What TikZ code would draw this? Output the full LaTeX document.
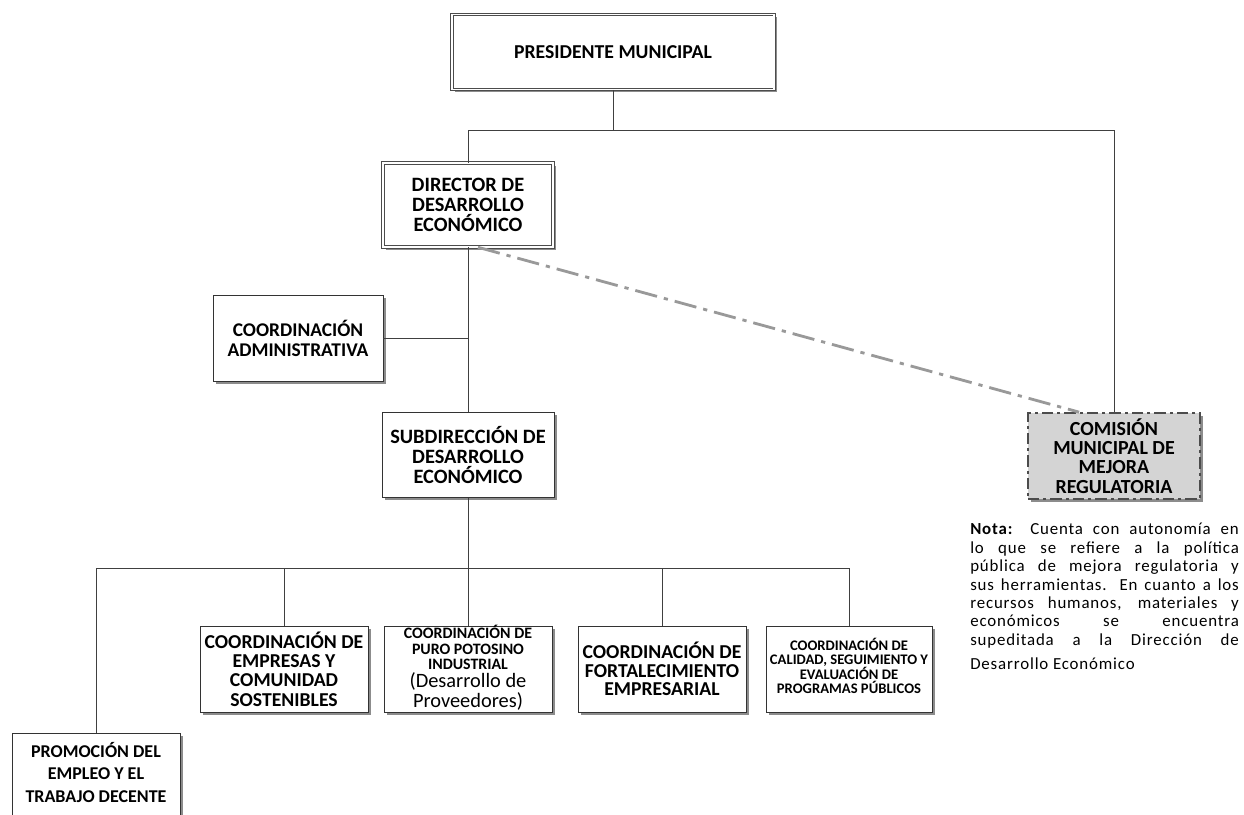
\documentclass[tikz,border=0pt]{standalone}
\usepackage{fontspec}
\setmainfont{Carlito}
\usetikzlibrary{shadows}

\tikzstyle{box} = [rectangle, draw=black!80, fill=white, thin, align=center, inner sep=2pt, font=\fontsize{14}{13.8}\selectfont\bfseries, drop shadow={shadow xshift=2pt, shadow yshift=-2pt, fill=black!45, opacity=1}]
\tikzstyle{dbox} = [box, draw=black!70, double=white, double distance=1.4pt]
\tikzstyle{gbox} = [box, fill=black!17, draw=black!70, line width=1.2pt, dash pattern=on 8pt off 3pt on 2pt off 3pt]
\tikzstyle{line} = [thin, draw=black!75]
\tikzstyle{dashln} = [line width=2pt, draw=black!40, dash pattern=on 16pt off 5pt on 3pt off 5pt]

\begin{document}
\begin{tikzpicture}[x=0.025cm, y=-0.025cm]
\useasboundingbox (0,0) rectangle (1244,815);

%% Top levels
\node (pres) [dbox, minimum width=8.05cm, minimum height=1.875cm, font=\fontsize{14}{15}\selectfont\bfseries] at (613,52) {PRESIDENTE MUNICIPAL};
\node (dir) [dbox, minimum width=4.25cm, minimum height=2.1cm, font=\fontsize{14.5}{14.2}\selectfont\bfseries] at (468,205) {DIRECTOR DE\\ DESARROLLO\\ ECONÓMICO};
\node (adm) [box, minimum width=4.25cm, minimum height=2.15cm, font=\fontsize{13.8}{14.2}\selectfont\bfseries] at (298,338) {COORDINACIÓN\\ ADMINISTRATIVA};
\node (sub) [box, minimum width=4.3cm, minimum height=2.12cm, font=\fontsize{14.5}{14.2}\selectfont\bfseries] at (468,455) {SUBDIRECCIÓN DE\\ DESARROLLO\\ ECONÓMICO};
\node (com) [gbox, minimum width=4.3cm, minimum height=2.15cm, font=\fontsize{14.2}{13.6}\selectfont\bfseries] at (1114,456) {COMISIÓN\\ MUNICIPAL DE\\ MEJORA\\ REGULATORIA};

%% Coordinations
\node (emp) [box, minimum width=4.2cm, minimum height=2.15cm] at (284,669) {COORDINACIÓN DE\\ EMPRESAS Y\\ COMUNIDAD\\ SOSTENIBLES};
\node (puro) [box, minimum width=4.2cm, minimum height=2.15cm] at (468,669) {};
\node (purotxt) [align=center, inner sep=0pt, font=\fontsize{11.3}{11}\selectfont\bfseries] at ([yshift=1pt]puro.center) {COORDINACIÓN DE\\ PURO POTOSINO\\ INDUSTRIAL\\[2pt] {\mdseries\fontsize{14.5}{15}\selectfont (Desarrollo de}\\ {\mdseries\fontsize{14.5}{15}\selectfont Proveedores)}};
\node (fort) [box, minimum width=4.2cm, minimum height=2.15cm, font=\fontsize{14}{13}\selectfont\bfseries] at (662,669) {COORDINACIÓN DE\\ FORTALECIMIENTO\\ EMPRESARIAL};
\node (cal) [box, minimum width=4.15cm, minimum height=2.15cm, font=\fontsize{10.4}{10.3}\selectfont\bfseries, text depth=0.15cm] at (849,669) {COORDINACIÓN DE\\ CALIDAD, SEGUIMIENTO Y\\ EVALUACIÓN DE\\ PROGRAMAS PÚBLICOS};
\node (prom) [box, minimum width=4.2cm, minimum height=2.25cm, text depth=0.3cm, font=\fontsize{12.8}{16}\selectfont\bfseries] at (96,778) {PROMOCIÓN DEL\\ EMPLEO Y EL\\ TRABAJO DECENTE};

%% Note
\node (nota) [anchor=north west, text width=191pt, align=justify, inner sep=0pt, font=\fontsize{12}{13.1}\selectfont\addfontfeatures{LetterSpace=5}] at (970,523) {\textbf{Nota:} Cuenta con autonomía en\linebreak lo que se refiere a la política\linebreak pública de mejora regulatoria y\linebreak sus herramientas. En cuanto a los\linebreak recursos humanos, materiales y\linebreak económicos se encuentra\linebreak supeditada a la Dirección de\vadjust{\vskip 4pt}\linebreak Desarrollo Económico};

%% Lines
\coordinate (top) at (0,130);
\coordinate (mid) at (0,568);
\draw [line] (pres.south) -- (pres.south |- top);
\draw [line] (dir.north) -- (dir.north |- top) -| (com.north);
\draw [line] (dir.south) -- (sub.north);
\draw [line] (adm.east) -- (adm.east -| dir.south);
\draw [line] (sub.south) -- (sub.south |- mid);
\draw [line] (prom.north) |- (cal.north |- mid) -- (cal.north);
\foreach \n in {emp, puro, fort}
  \draw [line] (\n.north) -- (\n.north |- mid);
\draw [dashln] ([xshift=0.25cm]dir.south) -- ([xshift=1.3cm]com.north west);
\end{tikzpicture}
\end{document}
